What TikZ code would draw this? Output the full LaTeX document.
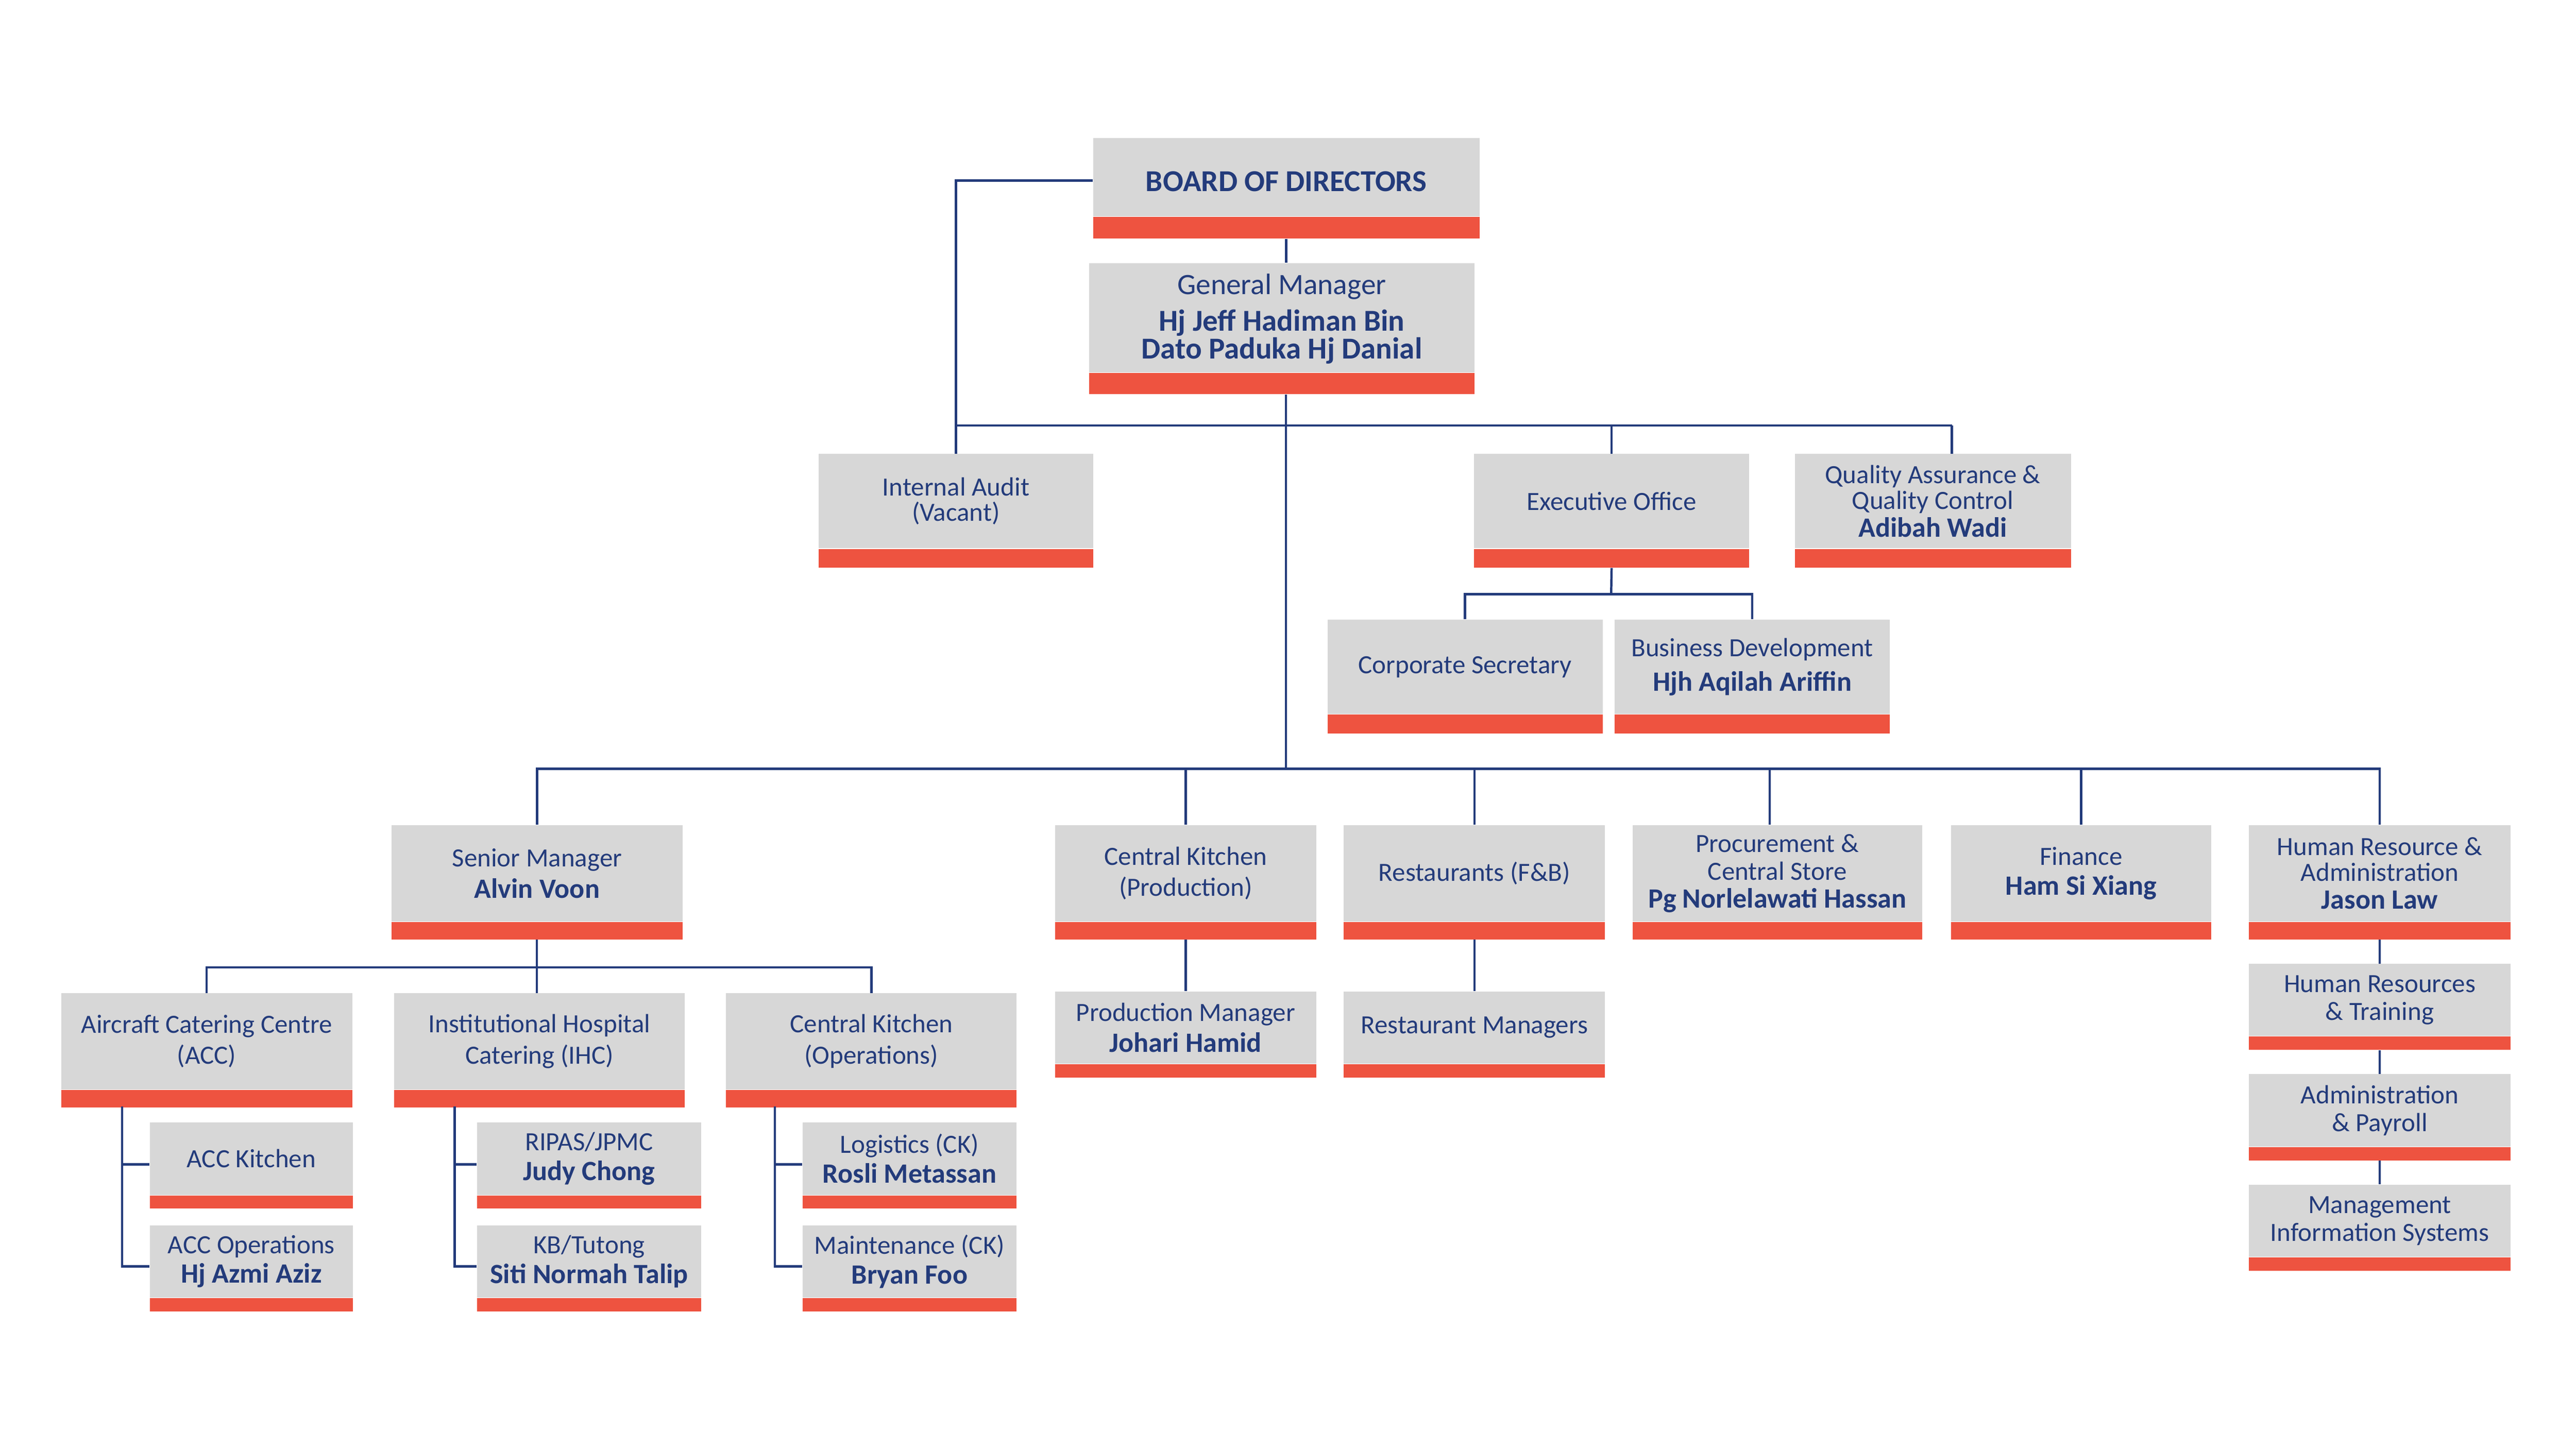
\documentclass[tikz,border=0pt]{standalone}
\usepackage{fontspec}
\setmainfont{Carlito}
\definecolor{navy}{HTML}{233B7B}
\definecolor{boxgray}{HTML}{D7D7D7}
\definecolor{barred}{HTML}{EE5340}
\newcommand\orgbox[7]{%
  \pgfmathsetmacro\obw{#4-#2}\pgfmathsetmacro\obh{#5-#3}%
  \pgfmathsetmacro\obr{#6-#5}\pgfmathsetmacro\obx{(#2+#4)/2}%
  \node[gbox, minimum width=\obw pt, minimum height=\obh pt, anchor=north] (#1) at (\obx,#3) {#7};
  \node[rbar, minimum width=\obw pt, minimum height=\obr pt, anchor=north] (#1b) at (#1.south) {};}
\newcommand\nm[1]{{\fontsize{17}{15.5}\selectfont\bfseries #1}}
\newcommand\gmn[1]{{\fontsize{18.5}{15.5}\selectfont\bfseries #1}}
\begin{document}
\begin{tikzpicture}[x=1pt,y=-1pt,
  gbox/.style={fill=boxgray, draw=none, inner sep=0pt, align=center, text=navy,
    font=\fontsize{16}{15.5}\selectfont},
  rbar/.style={fill=barred, draw=none, inner sep=0pt},
  link/.style={draw=navy, line width=1.4pt}]
\fill[white] (0,0) rectangle (1568,882);
\useasboundingbox (0,0) rectangle (1568,882);

% top
\orgbox{bod}{665.4}{84}{900.5}{131.4}{144.6}{\raisebox{-2.5pt}[\height][\depth]{\fontsize{18.5}{18}\selectfont\bfseries BOARD OF DIRECTORS}}
\orgbox{gm}{663}{160}{897.4}{226.5}{239.4}{\raisebox{-1.5pt}[\height][\depth]{\fontsize{18}{15.5}\selectfont General Manager}\\[6.5pt]\gmn{Hj Jeff Hadiman Bin}\\\gmn{Dato Paduka Hj Danial}}
% row 2
\orgbox{ia}{498.2}{276.2}{665.6}{333.6}{345}{Internal Audit\\(Vacant)}
\orgbox{eo}{897.2}{276.2}{1064.7}{333.6}{345}{Executive Office}
\orgbox{qa}{1092.5}{276.2}{1260.5}{333.6}{345}{Quality Assurance \&\\Quality Control\\[1.5pt]\nm{Adibah Wadi}}
\orgbox{cs}{808}{377.1}{975.5}{434.5}{445.9}{Corporate Secretary}
\orgbox{bd}{982.8}{377.1}{1150.3}{434.5}{445.9}{Business Development\\[5.5pt]\nm{Hjh Aqilah Ariffin}}
% row 3
\orgbox{sm}{238.3}{502.2}{415.5}{560.8}{571.3}{Senior Manager\\[3.5pt]\nm{Alvin Voon}}
\orgbox{ck}{642.2}{502.2}{801.2}{560.8}{571.3}{Central Kitchen\\[3.5pt](Production)}
\orgbox{rs}{818}{502.2}{977}{560.8}{571.3}{Restaurants (F\&B)}
\orgbox{pc}{993.7}{502.2}{1170}{560.8}{571.3}{Procurement \&\\[1.5pt]Central Store\\[1.5pt]\nm{Pg Norlelawati Hassan}}
\orgbox{fn}{1187.6}{502.2}{1346}{560.8}{571.3}{Finance\\[2.5pt]\nm{Ham Si Xiang}}
\orgbox{hr}{1368.7}{502.2}{1528.3}{560.8}{571.3}{Human Resource \&\\Administration\\[1.5pt]\nm{Jason Law}}
% under row 3
\orgbox{pm}{642.2}{603.4}{801.2}{647.4}{655.4}{Production Manager\\[3.5pt]\nm{Johari Hamid}}
\orgbox{rm}{818}{603.4}{977}{647.4}{655.4}{Restaurant Managers}
\orgbox{hrt}{1368.7}{586.6}{1528.3}{630.5}{638.6}{Human Resources\\[1.5pt]\& Training}
\orgbox{ap}{1368.7}{653.8}{1528.3}{697.8}{705.8}{Administration\\[1.5pt]\& Payroll}
\orgbox{mis}{1368.7}{721}{1528.3}{765}{773}{Management\\[1.5pt]Information Systems}
% senior manager subtree
\orgbox{acc}{37.2}{604.5}{214.4}{663}{673.6}{Aircraft Catering Centre\\[3.5pt](ACC)}
\orgbox{ihc}{240}{604.5}{416.8}{663}{673.6}{Institutional Hospital\\[3.5pt]Catering (IHC)}
\orgbox{cko}{442}{604.5}{618.8}{663}{673.6}{Central Kitchen\\[3.5pt](Operations)}
\orgbox{acck}{91.2}{683.1}{214.8}{727.2}{735}{ACC Kitchen}
\orgbox{acco}{91.2}{745.8}{214.8}{789.8}{797.7}{ACC Operations\\[2.5pt]\nm{Hj Azmi Aziz}}
\orgbox{rip}{290.4}{683.1}{426.8}{727.2}{735}{RIPAS/JPMC\\[2.5pt]\nm{Judy Chong}}
\orgbox{kbt}{290.4}{745.8}{426.8}{789.8}{797.7}{KB/Tutong\\[2.5pt]\nm{Siti Normah Talip}}
\orgbox{log}{488.5}{683.1}{618.8}{727.2}{735}{Logistics (CK)\\[2.5pt]\nm{Rosli Metassan}}
\orgbox{mnt}{488.5}{745.8}{618.8}{789.8}{797.7}{Maintenance (CK)\\[2.5pt]\nm{Bryan Foo}}

% junction coordinates
\coordinate (j1) at (782.8,259);
\coordinate (j2) at (980.7,361.8);
\coordinate (j3) at (782.8,468);
\coordinate (j4) at (326.8,589);
\coordinate (qj) at (1188.1,259);
\coordinate (pj) at (1077.2,468);
\coordinate (a1) at (74.4,673.6);
\coordinate (b1) at (276.8,673.6);
\coordinate (c1) at (471.6,673.6);

% connectors
\draw[link] ([yshift=-2pt]bod.west) -| (ia.north);
\draw[link] (bodb.south) -- (bodb.south |- gm.north);
\draw[link] (gmb.south -| j3) -- (j3);
\draw[link] (ia.north |- j1) -- (qj);
\draw[link] (eo.north) -- (eo.north |- j1);
\draw[link] (qj) -- (qj |- qa.north);
\draw[link] (eob.south) -- (j2);
\draw[link] (cs.north) |- (j2) -| (bd.north);
\draw[link] (sm.north) |- (j3) -| (hr.north);
\draw[link] (ck.north) -- (ck.north |- j3);
\draw[link] (rs.north) -- (rs.north |- j3);
\draw[link] (pj) -- (pj |- pc.north);
\draw[link] (fn.north) -- (fn.north |- j3);
\draw[link] (ckb.south) -- (pm.north);
\draw[link] (rsb.south) -- (rm.north);
\draw[link] (hrb.south) -- (hrt.north);
\draw[link] (hrtb.south) -- (ap.north);
\draw[link] (apb.south) -- (mis.north);
\draw[link] (smb.south -| j4) -- (j4 |- ihc.north);
\draw[link] (acc.north) |- (j4) -| (cko.north);
\draw[link] (a1) |- ([yshift=-3.5pt]acck.west);
\draw[link] (a1) |- ([yshift=-3pt]acco.west);
\draw[link] (b1) |- ([yshift=-3.5pt]rip.west);
\draw[link] (b1) |- ([yshift=-3pt]kbt.west);
\draw[link] (c1) |- ([yshift=-3.5pt]log.west);
\draw[link] (c1) |- ([yshift=-3pt]mnt.west);
\end{tikzpicture}
\end{document}
